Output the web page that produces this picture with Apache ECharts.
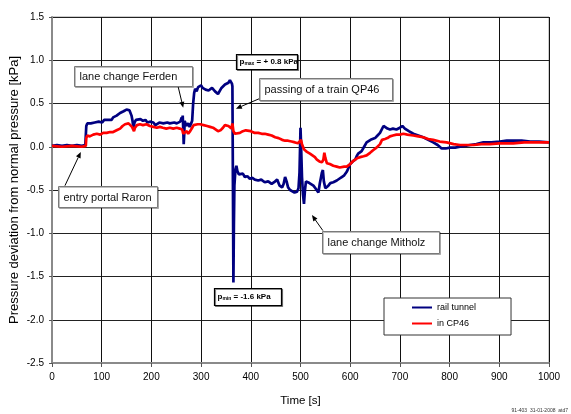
<!DOCTYPE html>
<html>
<head>
<meta charset="utf-8">
<script src="https://cdn.jsdelivr.net/npm/echarts@6/dist/echarts.min.js"></script>
<style>
html,body{margin:0;padding:0;background:#fff;}
#c{width:571px;height:414px;}
</style>
</head>
<body>
<div id="c"></div>
<script>
// ---- data (time [s], pressure deviation [kPa]) ----
const seriesNames = ['rail tunnel', 'in CP46'];
const xTicks = [0, 100, 200, 300, 400, 500, 600, 700, 800, 900, 1000];
const yTicks = [-2.5, -2.0, -1.5, -1.0, -0.5, 0.0, 0.5, 1.0, 1.5];

const railTunnel = [[0,0.01],[10,0.02],[20,0.01],[30,0.02],[40,0.01],[50,0.02],[60,0.01],[67,0.02],
[69,0.24],[71,0.27],[74,0.25],[78,0.27],[82,0.26],[86,0.28],[90,0.27],[94,0.29],[97,0.30],[101,0.28],[105,0.31],[109,0.29],[113,0.31],[117,0.32],[120,0.31],[123,0.34],[127,0.33],[130,0.36],[134,0.37],[137,0.39],[141,0.40],[144,0.41],[147,0.42],[150,0.43],[153,0.44],[156,0.42],[158,0.40],[160,0.36],[162,0.30],[164,0.21],[166,0.28],[169,0.31],[173,0.30],[178,0.32],[183,0.30],[188,0.31],[192,0.28],[197,0.29],[200,0.27],[204,0.28],[208,0.25],[212,0.27],[216,0.28],[220,0.26],[224,0.27],[228,0.25],[232,0.28],[237,0.27],[241,0.26],[246,0.28],[251,0.27],[255,0.25],[258,0.29],[261,0.34],[262,0.30],[263,0.36],[264,0.22],[265,0.03],[266,0.14],[267,0.30],[270,0.24],[274,0.27],[277,0.23],[280,0.27],[282,0.30],[284,0.50],[286,0.62],[288,0.67],[291,0.64],[294,0.69],[297,0.67],[300,0.71],[303,0.68],[306,0.70],[309,0.66],[312,0.68],[315,0.65],[318,0.66],[322,0.68],[325,0.66],[328,0.64],[331,0.65],[334,0.61],[336,0.59],[338,0.62],[341,0.68],[344,0.70],[348,0.72],[352,0.73],[355,0.74],[358,0.77],[360,0.75],[362,0.73],[363,0.70],[364,-0.40],[365,-1.57],[366,-0.90],[367,-0.45],[369,-0.27],[371,-0.22],[373,-0.28],[376,-0.32],[380,-0.33],[384,-0.31],[388,-0.35],[393,-0.34],[398,-0.37],[403,-0.36],[408,-0.38],[415,-0.39],[421,-0.38],[428,-0.41],[435,-0.40],[442,-0.43],[447,-0.41],[453,-0.38],[458,-0.45],[463,-0.47],[466,-0.43],[469,-0.35],[472,-0.40],[475,-0.47],[479,-0.50],[483,-0.51],[488,-0.53],[493,-0.52],[496,-0.48],[498,-0.30],[500,0.22],[501,0.05],[503,-0.35],[505,-0.55],[507,-0.66],[509,-0.50],[511,-0.40],[514,-0.39],[518,-0.42],[522,-0.43],[526,-0.45],[530,-0.48],[533,-0.50],[536,-0.53],[539,-0.42],[541,-0.36],[543,-0.30],[545,-0.27],[547,-0.40],[550,-0.48],[553,-0.50],[556,-0.45],[560,-0.42],[566,-0.41],[573,-0.39],[578,-0.37],[583,-0.35],[588,-0.33],[593,-0.29],[597,-0.24],[600,-0.20],[605,-0.17],[610,-0.15],[613,-0.11],[616,-0.08],[620,-0.06],[623,-0.05],[628,0.00],[633,0.05],[637,0.04],[641,0.08],[645,0.09],[650,0.10],[655,0.13],[660,0.16],[664,0.18],[667,0.24],[671,0.23],[675,0.21],[680,0.20],[686,0.21],[693,0.20],[700,0.22],[705,0.24],[710,0.21],[718,0.18],[727,0.15],[737,0.13],[747,0.11],[757,0.08],[767,0.05],[776,0.02],[784,-0.02],[792,-0.02],[801,-0.01],[811,-0.01],[821,0.00],[831,0.01],[841,0.02],[854,0.03],[868,0.05],[884,0.05],[901,0.06],[915,0.07],[928,0.07],[945,0.07],[962,0.06],[980,0.06],[1000,0.05]];

const inCP46 = [[0,0.01],[20,0.00],[40,0.01],[60,0.00],[68,0.01],[69,0.10],[71,0.13],[76,0.12],[83,0.14],[90,0.15],[97,0.14],[103,0.16],[110,0.16],[117,0.17],[123,0.17],[130,0.19],[137,0.21],[142,0.24],[147,0.26],[151,0.28],[154,0.27],[158,0.26],[161,0.23],[163,0.21],[165,0.18],[167,0.22],[171,0.25],[177,0.26],[183,0.25],[190,0.26],[197,0.24],[204,0.23],[211,0.22],[217,0.23],[223,0.22],[230,0.21],[237,0.22],[244,0.21],[251,0.22],[257,0.21],[262,0.20],[264,0.15],[266,0.13],[268,0.16],[271,0.18],[274,0.15],[278,0.18],[282,0.22],[285,0.25],[288,0.27],[293,0.26],[298,0.26],[305,0.25],[312,0.24],[318,0.23],[324,0.22],[329,0.20],[334,0.18],[339,0.19],[344,0.22],[348,0.25],[352,0.27],[355,0.24],[358,0.26],[361,0.21],[363,0.27],[365,0.18],[368,0.15],[372,0.17],[378,0.16],[384,0.18],[390,0.19],[394,0.19],[400,0.18],[408,0.16],[415,0.16],[422,0.15],[428,0.15],[435,0.14],[442,0.13],[449,0.11],[456,0.10],[463,0.08],[469,0.07],[475,0.07],[482,0.06],[489,0.05],[495,0.04],[499,0.06],[501,0.08],[503,0.03],[507,-0.03],[513,-0.06],[519,-0.08],[524,-0.10],[529,-0.12],[533,-0.15],[538,-0.17],[543,-0.18],[546,-0.15],[548,-0.07],[550,-0.13],[553,-0.19],[559,-0.20],[566,-0.22],[573,-0.23],[579,-0.24],[583,-0.24],[588,-0.23],[593,-0.23],[597,-0.21],[600,-0.20],[605,-0.17],[610,-0.15],[615,-0.13],[620,-0.12],[627,-0.11],[633,-0.10],[640,-0.07],[646,-0.04],[653,-0.01],[660,0.03],[664,0.08],[670,0.09],[675,0.10],[680,0.12],[686,0.13],[693,0.14],[700,0.14],[707,0.15],[715,0.14],[727,0.13],[737,0.12],[747,0.11],[757,0.09],[767,0.08],[780,0.06],[794,0.05],[808,0.03],[821,0.02],[835,0.02],[848,0.02],[864,0.03],[881,0.03],[900,0.04],[928,0.04],[950,0.05],[975,0.05],[1000,0.05]];

// ---- annotations (anchored in data units) ----
const annotations = [
  {text: 'lane change Ferden', box: [44, 0.935], w: 118, h: 20, arrow: [[254, 0.69], [264, 0.45]]},
  {text: 'passing of a train QP46', box: [416, 0.796], w: 133, h: 22, arrow: [[423, 0.57], [370, 0.44]]},
  {text: 'entry portal Raron', box: [12, -0.45], w: 99, h: 21, arrow: [[26, -0.45], [58, -0.06]]},
  {text: 'lane change Mitholz', box: [543, -0.969], w: 117, h: 22, arrow: [[545, -0.969], [523, -0.79]]},
  {rich: '{b|p}{s|max}{b| = + 0.8 kPa}', box: [370, 1.073], w: 61, h: 15},
  {rich: '{b|p}{s|min}{b| = -1.6 kPa}', box: [326, -1.638], w: 67, h: 17}
];

const FONT = '"Liberation Sans", Arial, sans-serif';
const chart = echarts.init(document.getElementById('c'), null, {renderer: 'canvas'});

const option = {
  animation: false,
  backgroundColor: '#fff',
  grid: {left: 52, right: 22, top: 17, bottom: 51, containLabel: false, outerBoundsMode: 'none',
    show: true, borderColor: '#9a9a9a', borderWidth: 1},
  legend: {
    left: 384, top: 298, orient: 'vertical',
    data: seriesNames,
    icon: 'rect',
    backgroundColor: '#fff', borderColor: '#333', borderWidth: 1,
    padding: [5, 35, 7, 28],
    itemWidth: 20, itemHeight: 2, itemGap: 7,
    textStyle: {fontSize: 9, lineHeight: 8, fontFamily: FONT, color: '#000'}
  },
  xAxis: {
    type: 'value', min: xTicks[0], max: xTicks[xTicks.length - 1], interval: 100,
    name: 'Time [s]', nameLocation: 'middle', nameGap: 32, nameMoveOverlap: false,
    nameTextStyle: {fontSize: 11.5, fontFamily: FONT, color: '#000'},
    axisLine: {show: true, onZero: false, lineStyle: {color: '#8a8a8a', width: 2}},
    axisTick: {show: true, length: 4, lineStyle: {color: '#555'}},
    axisLabel: {fontSize: 10, fontFamily: FONT, color: '#000', margin: 9,
      formatter: v => String(v)},
    splitLine: {show: true, lineStyle: {color: '#111', width: 1}}
  },
  yAxis: {
    type: 'value', min: yTicks[0], max: yTicks[yTicks.length - 1], interval: 0.5,
    name: 'Pressure deviation from normal pressure [kPa]', nameLocation: 'middle', nameGap: 31, nameMoveOverlap: false,
    nameTextStyle: {fontSize: 13, fontFamily: FONT, color: '#000'},
    axisLine: {show: true, onZero: false, lineStyle: {color: '#8a8a8a', width: 2}},
    axisTick: {show: true, length: 3, lineStyle: {color: '#555'}},
    axisLabel: {fontSize: 10, fontFamily: FONT, color: '#000', margin: 8,
      formatter: v => v.toFixed(1)},
    splitLine: {show: true, lineStyle: {color: '#222', width: 1}}
  },
  series: [
    {name: seriesNames[0], type: 'line', data: railTunnel, showSymbol: false, symbol: 'none',
      lineStyle: {color: '#000080', width: 2.7}, itemStyle: {color: '#000080'}, z: 3},
    {name: seriesNames[1], type: 'line', data: inCP46, showSymbol: false, symbol: 'none',
      lineStyle: {color: '#ff0000', width: 2.7}, itemStyle: {color: '#ff0000'}, z: 4}
  ]
};
chart.setOption(option);

function px(p) { return chart.convertToPixel({gridIndex: 0}, p); }

const graphics = [];
annotations.forEach(a => {
  const p = px(a.box);
  const x = Math.round(p[0]) + 0.5, y = Math.round(p[1]) + 0.5;
  graphics.push({
    type: 'rect', z: 100,
    shape: {x: x, y: y, width: a.w, height: a.h},
    style: a.rich
      ? {fill: '#fff', stroke: '#000', lineWidth: 1.2, shadowColor: 'rgba(0,0,0,0.45)', shadowOffsetX: 1, shadowOffsetY: 1, shadowBlur: 0}
      : {fill: '#fff', stroke: '#7a7a7a', lineWidth: 1, shadowColor: 'rgba(0,0,0,0.25)', shadowOffsetX: 1, shadowOffsetY: 1, shadowBlur: 0}
  });
  if (a.rich) {
    graphics.push({
      type: 'text', z: 101, x: x + 3, y: y + a.h / 2,
      style: {
        text: a.rich, verticalAlign: 'middle',
        rich: {
          b: {fontSize: 8, fontWeight: 'bold', fontFamily: FONT, fill: '#000'},
          s: {fontSize: 5, fontWeight: 'bold', fontFamily: FONT, fill: '#000', padding: [4, 0, 0, 0]}
        }
      }
    });
  } else {
    graphics.push({
      type: 'text', z: 101, x: x + 5, y: y + a.h / 2 + 0.5,
      style: {text: a.text, font: '11px ' + FONT, fill: '#111', verticalAlign: 'middle'}
    });
  }
  if (a.arrow) {
    const s = px(a.arrow[0]), e = px(a.arrow[1]);
    const dx = e[0] - s[0], dy = e[1] - s[1];
    const L = Math.sqrt(dx * dx + dy * dy);
    const ux = dx / L, uy = dy / L;
    const hl = 6, hw = 2.5;
    const bx = e[0] - ux * hl, by = e[1] - uy * hl;
    graphics.push({
      type: 'line', z: 99,
      shape: {x1: s[0], y1: s[1], x2: bx, y2: by},
      style: {stroke: '#000', lineWidth: 1}
    });
    graphics.push({
      type: 'polygon', z: 99,
      shape: {points: [[e[0], e[1]], [bx - uy * hw, by + ux * hw], [bx + uy * hw, by - ux * hw]]},
      style: {fill: '#000'}
    });
  }
});
graphics.push({
  type: 'text', right: 3, bottom: 1, z: 101,
  style: {text: '91-403  31-01-2008  atd7', font: '5px ' + FONT, fill: '#333'}
});
chart.setOption({graphic: graphics});
</script>
</body>
</html>
